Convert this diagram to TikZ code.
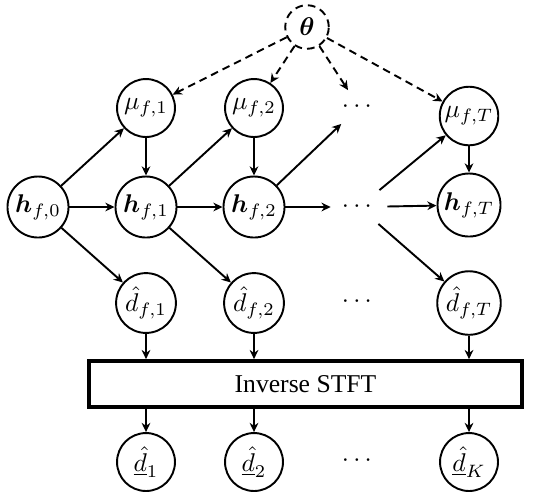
\documentclass[tikz,border=0pt]{standalone}
\usepackage{amsmath}
\usepackage[no-math]{fontspec}
\setmainfont{Liberation Serif}
\usepackage{tikz}
\usetikzlibrary{positioning, arrows.meta, calc}

\begin{document}
\begin{tikzpicture}[
  x=0.39pt, y=-0.39pt,
  font=\normalsize,
  line width=0.75pt,
  var/.style={
    draw, circle, inner sep=1pt, minimum size=22.6pt
  },
  hid/.style={var, minimum size=23.8pt},
  param/.style={var, dashed, dash pattern=on 3pt off 2pt, minimum size=17pt},
  dotsnode/.style={inner sep=4pt},
  stft/.style={draw, line width=1.4pt, minimum width=169pt, minimum height=18pt},
  arrow/.style={-{Stealth[length=3.6pt, width=3.4pt]}},
  darrow/.style={arrow, dash pattern=on 3pt off 2pt}
]
\useasboundingbox (0,0) rectangle (546,497);

% parameters
\node[param] (th) at (307,27) {$\boldsymbol{\theta}$};

% means
\node[var] (mu1) at (146,108) {$\mu_{f,1}$};
\node[var] (mu2) at (254,108) {$\mu_{f,2}$};
\node[dotsnode] (mud) at (359,107) {$\cdots$};
\node[var] (muT) at (469,116) {$\mu_{f,T}$};

% hidden states
\node[hid] (h0) at (38,207) {$\boldsymbol{h}_{f,0}$};
\node[hid] (h1) at (146,207) {$\boldsymbol{h}_{f,1}$};
\node[hid] (h2) at (254,207) {$\boldsymbol{h}_{f,2}$};
\node[dotsnode] (hd) at (359,207) {$\cdots$};
\node[hid] (hT) at (469,205) {$\boldsymbol{h}_{f,T}$};

% STFT estimates
\node[var] (dh1) at (146,303) {$\hat{d}_{f,1}$};
\node[var] (dh2) at (254,303) {$\hat{d}_{f,2}$};
\node[dotsnode] (dhd) at (359,302) {$\cdots$};
\node[var] (dhT) at (469,303) {$\hat{d}_{f,T}$};

\node[stft] (istft) at (305.5,384) {Inverse STFT};

% time-domain estimates
\node[var] (d1) at (146,462) {$\underline{\hat{d}}_1$};
\node[var] (d2) at (254,462) {$\underline{\hat{d}}_2$};
\node[dotsnode] (dd) at (359,461) {$\cdots$};
\node[var] (dK) at (469,462) {$\underline{\hat{d}}_K$};

\draw[darrow] (th) -- (mu1);
\draw[darrow] (th) -- (mu2);
\draw[darrow] (th) -- (mud);
\draw[darrow] (th) -- (muT);

\draw[arrow] (h0) -- (mu1);
\draw[arrow] (h0) -- (h1);
\draw[arrow] (h0) -- (dh1);
\draw[arrow] (mu1) -- (h1);
\draw[arrow] (h1) -- (mu2);
\draw[arrow] (h1) -- (h2);
\draw[arrow] (h1) -- (dh2);
\draw[arrow] (mu2) -- (h2);
\draw[arrow] (h2) -- (mud);
\draw[arrow] (h2) -- (hd);
\draw[arrow] (hd) -- (muT);
\draw[arrow] (hd) -- (hT);
\draw[arrow] (hd) -- (dhT);
\draw[arrow] (muT) -- (hT);

\draw[arrow] (dh1) -- (dh1 |- istft.north);
\draw[arrow] (dh2) -- (dh2 |- istft.north);
\draw[arrow] (dhT) -- (dhT |- istft.north);
\draw[arrow] (istft.south -| d1) -- (d1);
\draw[arrow] (istft.south -| d2) -- (d2);
\draw[arrow] (istft.south -| dK) -- (dK);
\end{tikzpicture}
\end{document}
